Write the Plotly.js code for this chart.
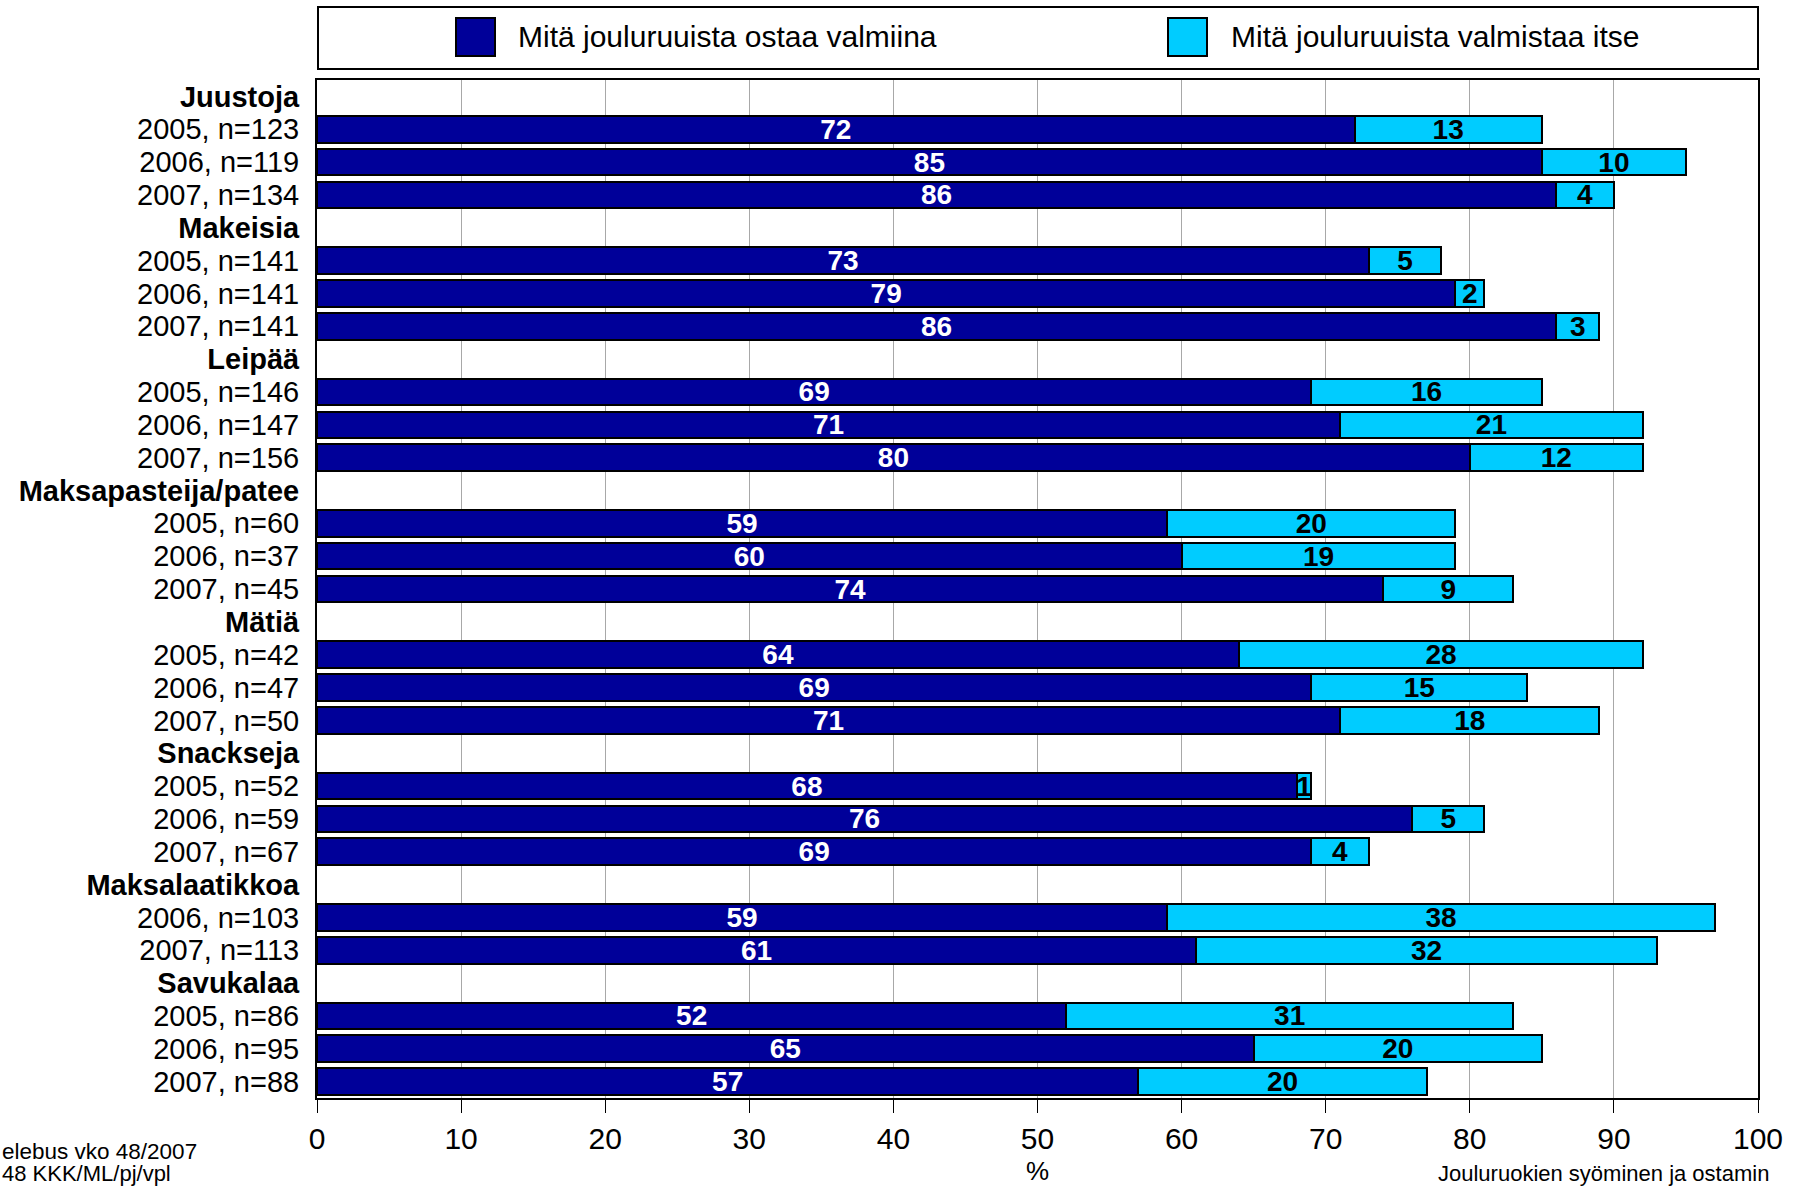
<!DOCTYPE html>
<html>
<head>
<meta charset="utf-8">
<script src="https://cdn.plot.ly/plotly-3.0.1.min.js"></script>
<style>
  html, body { margin: 0; padding: 0; background: #ffffff; overflow: hidden; }
  #chart { width: 1794px; height: 1186px; }
</style>
</head>
<body>
<div id="chart"></div>
<script>
// ---- data ----
const categories = ['Juustoja', 'Makeisia', 'Leipää', 'Maksapasteija/patee', 'Mätiä', 'Snackseja', 'Maksalaatikkoa', 'Savukalaa'];
const rowLabels = [
  ['2005, n=123', '2006, n=119', '2007, n=134'],
  ['2005, n=141', '2006, n=141', '2007, n=141'],
  ['2005, n=146', '2006, n=147', '2007, n=156'],
  ['2005, n=60', '2006, n=37', '2007, n=45'],
  ['2005, n=42', '2006, n=47', '2007, n=50'],
  ['2005, n=52', '2006, n=59', '2007, n=67'],
  ['2006, n=103', '2007, n=113'],
  ['2005, n=86', '2006, n=95', '2007, n=88']
];
const ostaaValmiina = [[72, 85, 86], [73, 79, 86], [69, 71, 80], [59, 60, 74], [64, 69, 71], [68, 76, 69], [59, 61], [52, 65, 57]];
const valmistaaItse = [[13, 10, 4], [5, 2, 3], [16, 21, 12], [20, 19, 9], [28, 15, 18], [1, 5, 4], [38, 32], [31, 20, 20]];
const seriesNames = ['Mitä jouluruuista ostaa valmiina', 'Mitä jouluruuista valmistaa itse'];
const xTickValues = [0, 10, 20, 30, 40, 50, 60, 70, 80, 90, 100];
const xAxisTitle = '%';
const footLeft = ['elebus vko 48/2007', '48 KKK/ML/pj/vpl'];
const footRight = 'Jouluruokien syöminen ja ostamin';

// ---- build rows ----
const yCats = [], xA = [], xB = [], tA = [], tB = [];
categories.forEach((cat, g) => {
  yCats.push('<b>' + cat + '</b>');
  xA.push(null); xB.push(null); tA.push(''); tB.push('');
  rowLabels[g].forEach((lab, i) => {
    yCats.push(lab);
    xA.push(ostaaValmiina[g][i]);
    xB.push(valmistaaItse[g][i]);
    tA.push(String(ostaaValmiina[g][i]));
    tB.push(String(valmistaaItse[g][i]));
  });
});

// ---- styling ----
const W = 1794, H = 1186;
const M = { l: 317, r: 36, t: 80, b: 88 };
const plotW = W - M.l - M.r, plotH = H - M.t - M.b;
const px = p => (p - M.l) / plotW;
const py = p => (H - M.b - p) / plotH;
const baseFont = 'Liberation Sans, Arial, Helvetica, sans-serif';
const darkColor = '#000099';
const lightColor = '#00CCFF';

const traces = [
  {
    type: 'bar', orientation: 'h', name: seriesNames[0],
    y: yCats, x: xA, text: tA,
    textposition: 'inside', insidetextanchor: 'middle', textangle: 0,
    textfont: { family: baseFont, size: 28, color: '#ffffff', weight: 'bold' },
    marker: { color: darkColor, line: { color: '#000000', width: 2 } },
    hoverinfo: 'x+y'
  },
  {
    type: 'bar', orientation: 'h', name: seriesNames[1],
    y: yCats, x: xB, text: tB,
    textposition: 'inside', insidetextanchor: 'middle', textangle: 0,
    textfont: { family: baseFont, size: 28, color: '#000000', weight: 'bold' },
    marker: { color: lightColor, line: { color: '#000000', width: 2 } },
    hoverinfo: 'x+y'
  }
];

const shapes = [
  { type: 'rect', xref: 'paper', yref: 'paper', x0: px(318), x1: px(1758), y0: py(69), y1: py(7),
    line: { color: '#000000', width: 2 }, fillcolor: '#ffffff' },
  { type: 'rect', xref: 'paper', yref: 'paper', x0: px(456), x1: px(495), y0: py(56), y1: py(18),
    line: { color: '#000000', width: 2 }, fillcolor: darkColor },
  { type: 'rect', xref: 'paper', yref: 'paper', x0: px(1168), x1: px(1207), y0: py(56), y1: py(18),
    line: { color: '#000000', width: 2 }, fillcolor: lightColor }
];

const annotations = [
  { xref: 'paper', yref: 'paper', x: px(516), y: py(37), xanchor: 'left', yanchor: 'middle',
    text: seriesNames[0], showarrow: false, font: { family: baseFont, size: 30, color: '#000000' } },
  { xref: 'paper', yref: 'paper', x: px(1229), y: py(37), xanchor: 'left', yanchor: 'middle',
    text: seriesNames[1], showarrow: false, font: { family: baseFont, size: 30, color: '#000000' } },
  { xref: 'paper', yref: 'paper', x: px(0), y: py(1151), xanchor: 'left', yanchor: 'middle',
    text: footLeft[0], showarrow: false, font: { family: baseFont, size: 22.5, color: '#000000' } },
  { xref: 'paper', yref: 'paper', x: px(0), y: py(1173), xanchor: 'left', yanchor: 'middle',
    text: footLeft[1], showarrow: false, font: { family: baseFont, size: 22, color: '#000000' } },
  { xref: 'paper', yref: 'paper', x: px(1436), y: py(1173), xanchor: 'left', yanchor: 'middle',
    text: footRight, showarrow: false, font: { family: baseFont, size: 22, color: '#000000' } }
];

const layout = {
  width: W, height: H,
  margin: { l: M.l, r: M.r, t: M.t, b: M.b, pad: 0 },
  paper_bgcolor: '#ffffff', plot_bgcolor: '#ffffff',
  font: { family: baseFont, color: '#000000' },
  barmode: 'stack', bargap: 0.19,
  showlegend: false,
  uniformtext: { mode: 'show', minsize: 28 },
  xaxis: {
    range: [0, 100], tickmode: 'array', tickvals: xTickValues, ticktext: xTickValues.map(String),
    showgrid: true, gridcolor: '#a8a8a8', gridwidth: 1, zeroline: false,
    ticks: 'outside', ticklen: 13, tickwidth: 1, tickcolor: '#000000',
    tickfont: { family: baseFont, size: 30, color: '#000000' },
    showline: true, linecolor: '#000000', linewidth: 2, mirror: true,
    title: { text: xAxisTitle, font: { family: baseFont, size: 26, color: '#000000' }, standoff: 8 },
    automargin: false, fixedrange: true
  },
  yaxis: {
    type: 'category', categoryorder: 'array', categoryarray: yCats,
    tickmode: 'array', tickvals: yCats, ticktext: yCats,
    autorange: 'reversed', showgrid: false, zeroline: false,
    ticks: '', ticklabelstandoff: 10,
    tickfont: { family: baseFont, size: 29, color: '#000000' },
    showline: true, linecolor: '#000000', linewidth: 2, mirror: true,
    automargin: false, fixedrange: true
  },
  shapes: shapes,
  annotations: annotations
};

Plotly.newPlot('chart', traces, layout, { displayModeBar: false, staticPlot: true });
</script>
</body>
</html>
